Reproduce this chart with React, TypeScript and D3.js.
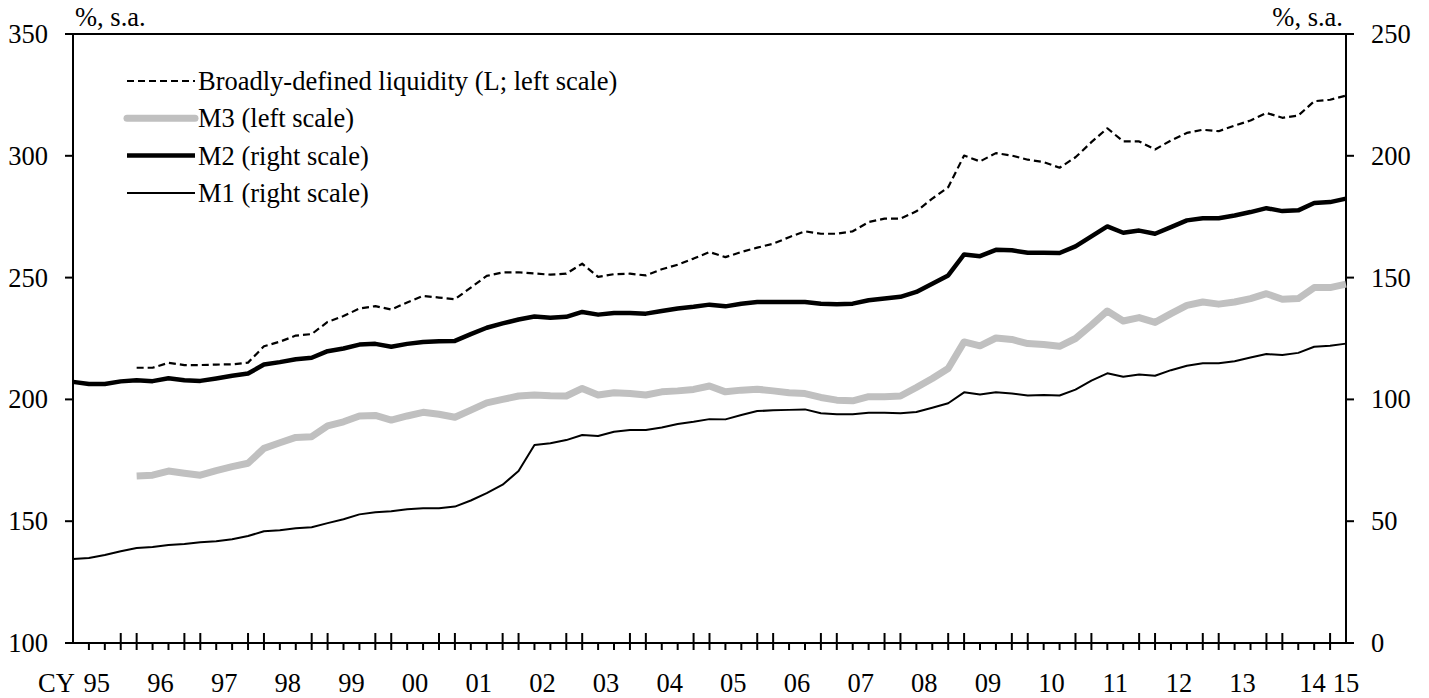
import * as d3 from 'd3';
import React, { useEffect, useRef } from 'react';

// quarterly series, 1995 Q1 .. 2015 Q1 (81 quarters)
const firstYear = 1995;
const yearLabels = ['95', '96', '97', '98', '99', '00', '01', '02', '03', '04', '05', '06', '07', '08', '09', '10', '11', '12', '13', '14', '15'];

// left scale (%, s.a.)
const broadL: (number | null)[] = [
    null, null, null, null,
    213.0, 213.0, 215.0, 214.1, 214.1, 214.3, 214.4, 215.1, 221.8, 223.7,
    226.2, 226.8, 231.8, 234.2, 237.3, 238.3, 236.9, 239.8, 242.5, 241.8,
    241.1, 245.9, 250.7, 252.1, 252.2, 251.7, 251.2, 251.6, 255.7, 250.3,
    251.4, 251.6, 250.9, 253.4, 255.3, 257.8, 260.5, 258.4, 260.5, 262.3,
    263.9, 266.6, 269.0, 268.0, 268.0, 269.0, 272.8, 274.2, 274.2, 277.2,
    282.4, 287.1, 300.1, 297.7, 301.1, 300.1, 298.4, 297.4, 295.1, 299.4,
    305.6, 311.3, 305.9, 305.9, 302.6, 306.3, 309.4, 310.7, 310.1, 312.4,
    314.5, 317.6, 315.6, 316.5, 322.4, 323.0, 324.7,
];

const m3: (number | null)[] = [
    null, null, null, null,
    168.6, 168.9, 170.6, 169.7, 168.9, 170.8, 172.4, 173.8, 179.9, 182.2,
    184.4, 184.7, 189.1, 190.8, 193.2, 193.4, 191.5, 193.2, 194.7, 193.9,
    192.7, 195.6, 198.6, 200.0, 201.4, 201.8, 201.5, 201.4, 204.5, 201.8,
    202.7, 202.4, 201.8, 203.1, 203.5, 204.1, 205.5, 203.1, 203.8, 204.2,
    203.5, 202.7, 202.4, 200.8, 199.7, 199.4, 201.1, 201.1, 201.4, 204.9,
    208.6, 212.7, 223.6, 222.0, 225.2, 224.6, 222.9, 222.5, 221.8, 225.0,
    230.5, 236.3, 232.2, 233.6, 231.6, 235.2, 238.6, 240.0, 239.1, 240.0,
    241.4, 243.4, 241.1, 241.4, 245.9, 245.9, 247.3,
];

// right scale (%, s.a.)
const m2: number[] = [
    107.2, 106.3, 106.3, 107.4, 107.9, 107.5, 108.7, 107.9, 107.6, 108.6,
    109.7, 110.6, 114.3, 115.3, 116.5, 117.1, 119.8, 120.9, 122.5, 122.8,
    121.6, 122.8, 123.6, 123.9, 124.0, 126.8, 129.4, 131.2, 132.8, 134.0,
    133.5, 133.9, 135.9, 134.8, 135.5, 135.5, 135.2, 136.3, 137.3, 138.0,
    138.9, 138.2, 139.3, 140.0, 140.0, 140.0, 140.0, 139.3, 139.1, 139.3,
    140.7, 141.4, 142.1, 144.1, 147.5, 150.9, 159.5, 158.8, 161.4, 161.2,
    160.2, 160.2, 160.1, 162.8, 166.9, 171.0, 168.4, 169.3, 168.0, 170.7,
    173.5, 174.4, 174.4, 175.5, 176.9, 178.5, 177.3, 177.6, 180.6, 181.0,
    182.4,
];

const m1: number[] = [
    34.5, 34.9, 36.1, 37.7, 39.0, 39.4, 40.2, 40.6, 41.4, 41.8,
    42.6, 43.9, 45.9, 46.3, 47.1, 47.5, 49.2, 50.8, 52.8, 53.7,
    54.1, 54.9, 55.3, 55.3, 56.0, 58.5, 61.5, 65.0, 70.6, 81.3,
    82.0, 83.3, 85.4, 85.0, 86.7, 87.4, 87.4, 88.5, 89.9, 90.8,
    91.9, 91.8, 93.6, 95.2, 95.5, 95.7, 95.9, 94.3, 93.9, 93.9,
    94.5, 94.5, 94.3, 94.8, 96.6, 98.4, 102.9, 102.0, 102.9, 102.4,
    101.6, 101.8, 101.6, 104.0, 107.7, 110.7, 109.3, 110.2, 109.7, 112.0,
    113.8, 114.8, 114.8, 115.7, 117.2, 118.6, 118.2, 119.1, 121.6, 122.0,
    122.9,
];

const leftTicks = [100, 150, 200, 250, 300, 350];
const rightTicks = [0, 50, 100, 150, 200, 250];

const legendItems = [
    { key: 'L', label: 'Broadly-defined liquidity (L; left scale)' },
    { key: 'M3', label: 'M3 (left scale)' },
    { key: 'M2', label: 'M2 (right scale)' },
    { key: 'M1', label: 'M1 (right scale)' },
];

const styles: Record<string, { stroke: string; width: number; dash?: string }> = {
    L: { stroke: '#000', width: 2.2, dash: '7,4' },
    M3: { stroke: '#c0c0c0', width: 7 },
    M2: { stroke: '#000', width: 4.5 },
    M1: { stroke: '#000', width: 2 },
};

const App: React.FC = () => {
    const ref = useRef<SVGSVGElement | null>(null);

    useEffect(() => {
        const width = 1429;
        const height = 698;
        const margin = { top: 34, right: 83, bottom: 55, left: 73 };
        const font = '"Liberation Serif", "Times New Roman", serif';
        const fontSize = 26.5;

        const svg = d3.select(ref.current).attr('width', width).attr('height', height);
        svg.selectAll('*').remove();

        const nQ = m2.length;
        const x = d3.scaleLinear().domain([0, nQ - 1]).range([margin.left, width - margin.right]);
        const yL = d3.scaleLinear().domain([100, 350]).range([height - margin.bottom, margin.top]);
        const yR = d3.scaleLinear().domain([0, 250]).range([height - margin.bottom, margin.top]);

        const x0 = x.range()[0];
        const x1 = x.range()[1];
        const yb = yL.range()[0];
        const yt = yL.range()[1];

        // frame + axes
        const axes = svg.append('g').attr('stroke', '#000').attr('stroke-width', 2);
        axes.append('line').attr('x1', x0 - 8).attr('x2', x1 + 8).attr('y1', yt).attr('y2', yt);
        axes.append('line').attr('x1', x0 - 8).attr('x2', x1 + 8).attr('y1', yb).attr('y2', yb);
        axes.append('line').attr('x1', x0).attr('x2', x0).attr('y1', yt).attr('y2', yb);
        axes.append('line').attr('x1', x1).attr('x2', x1).attr('y1', yt).attr('y2', yb);

        leftTicks.forEach((t) => {
            axes.append('line').attr('x1', x0 - 8).attr('x2', x0).attr('y1', yL(t)).attr('y2', yL(t));
        });
        rightTicks.forEach((t) => {
            axes.append('line').attr('x1', x1).attr('x2', x1 + 8).attr('y1', yR(t)).attr('y2', yR(t));
        });

        // quarter ticks: crossing ticks on both sides of each year boundary
        d3.range(1, nQ - 1).forEach((k) => {
            const long = k % 4 === 0 || k % 4 === 3;
            axes.append('line')
                .attr('x1', x(k)).attr('x2', x(k))
                .attr('y1', long ? yb - 10 : yb)
                .attr('y2', yb + 7);
        });

        const text = svg.append('g')
            .attr('font-family', font)
            .attr('font-size', fontSize)
            .attr('fill', '#000');

        leftTicks.forEach((t) => {
            text.append('text').attr('x', 48).attr('y', yL(t) + 9).attr('text-anchor', 'end').text(t);
        });
        rightTicks.forEach((t) => {
            text.append('text').attr('x', x1 + 25).attr('y', yR(t) + 9).text(t);
        });

        text.append('text').attr('x', x0 + 2).attr('y', 26).text('%, s.a.');
        text.append('text').attr('x', x1 - 3).attr('y', 26).attr('text-anchor', 'end').text('%, s.a.');

        // year labels centred on the four quarters of each year
        text.append('text').attr('x', 38).attr('y', 692).text('CY');
        yearLabels.forEach((lab, i) => {
            let k = 1.5 + 4 * i;
            if (i === yearLabels.length - 1) k = nQ - 1;
            else if (i === yearLabels.length - 2) k += 0.4; // nudged left of "15"
            text.append('text').attr('x', x(k)).attr('y', 692).attr('text-anchor', 'middle').text(lab);
        });

        // series
        const lineL = d3.line<number | null>()
            .defined((d) => d != null)
            .x((_, i) => x(i))
            .y((d) => yL(d as number));
        const lineR = d3.line<number>()
            .x((_, i) => x(i))
            .y((d) => yR(d));

        const series: { key: string; path: string | null }[] = [
            { key: 'M3', path: lineL(m3) },
            { key: 'L', path: lineL(broadL) },
            { key: 'M2', path: lineR(m2) },
            { key: 'M1', path: lineR(m1) },
        ];

        series.forEach((s) => {
            const st = styles[s.key];
            svg.append('path')
                .attr('d', s.path ?? '')
                .attr('fill', 'none')
                .attr('stroke', st.stroke)
                .attr('stroke-width', st.width)
                .attr('stroke-linejoin', 'round')
                .attr('stroke-dasharray', st.dash ?? null);
        });

        // legend
        const legend = svg.append('g');
        legendItems.forEach((item, i) => {
            const st = styles[item.key];
            const ly = 81 + i * 37.3;
            legend.append('line')
                .attr('x1', 127).attr('x2', 195)
                .attr('y1', ly).attr('y2', ly)
                .attr('stroke', st.stroke)
                .attr('stroke-width', st.width)
                .attr('stroke-linecap', item.key === 'M3' ? 'round' : 'butt')
                .attr('stroke-dasharray', st.dash ?? null);
            legend.append('text')
                .attr('x', 198).attr('y', ly + 9)
                .attr('font-family', font)
                .attr('font-size', fontSize)
                .text(item.label);
        });
    }, []);

    return (
        <div style={{ position: 'absolute', left: 0, top: 0, background: '#fff' }}>
            <svg ref={ref} style={{ display: 'block' }}></svg>
        </div>
    );
};

export default App;
